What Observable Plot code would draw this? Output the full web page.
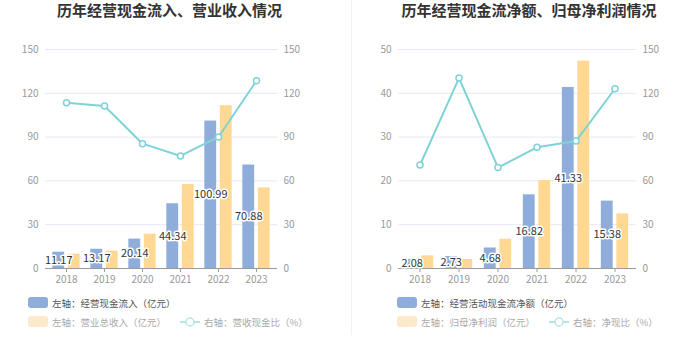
<!DOCTYPE html>
<html><head><meta charset="utf-8">
<script src="https://cdn.jsdelivr.net/npm/d3@7"></script>
<script src="https://cdn.jsdelivr.net/npm/@observablehq/plot@0.6"></script>
<style>
body{margin:0;background:#fff;font-family:"Noto Sans CJK SC","Noto Sans",sans-serif;}
#wrap{position:relative;width:699px;height:359px;overflow:hidden;background:#fff;}
.title{position:absolute;top:0;text-align:center;font-size:15px;font-weight:bold;color:#333;line-height:20px;white-space:nowrap;}
.chart{position:absolute;top:30px;}
.lg{position:absolute;font-size:9.5px;line-height:12px;white-space:nowrap;}
.sw{position:absolute;width:20px;height:11px;border-radius:3px;}
.divider{position:absolute;left:351px;top:0;width:1px;height:335px;background:#f2f2f2;}
</style>
</head><body>
<div id="wrap"></div>
<script>
const years = ["2018","2019","2020","2021","2022","2023"];
// left panel
const cashIn = [11.17,13.17,20.14,44.34,100.99,70.88];
const revenue = [9.8,11.9,23.5,57.5,111.5,55.2];
const cashRatio = [113.6,111.3,85.5,77.1,90.1,128.6];
const leftTicks1 = [0,30,60,90,120,150];
const rightTicks1 = [0,30,60,90,120,150];
// right panel
const netCash = [2.08,2.73,4.68,16.82,41.33,15.38];
const netProfit = [2.89,2.05,6.69,20.1,47.35,12.47];
const netRatio = [70.9,130.4,69.1,83.0,87.3,123.1];
const leftTicks2 = [0,10,20,30,40,50];
const rightTicks2 = [0,30,60,90,120,150];

const titles = ["历年经营现金流入、营业收入情况","历年经营现金流净额、归母净利润情况"];
const legendA = ["左轴：经营现金流入（亿元）","左轴：经营活动现金流净额（亿元）"];
const legendB = ["左轴：营业总收入（亿元）","左轴：归母净利润（亿元）"];
const legendC = ["右轴：营收现金比（%）","右轴：净现比（%）"];

const BLUE="#8eaddb", YEL="#ffd894", TEAL="#7fd3d6";
const wrap = document.getElementById("wrap");

function panel(cfg){
  const data = years.map((y,i)=>({year:y,a:cfg.a[i],b:cfg.b[i],r:cfg.r[i]}));
  const lMax = cfg.lt[cfg.lt.length-1], rMax = cfg.rt[cfg.rt.length-1];
  const k = rMax/lMax;
  const bw = (cfg.width-cfg.ml-cfg.mr)/years.length;
  const h = bw/2;
  const svg = Plot.plot({
    width: cfg.width, height: 260,
    marginTop: 19, marginBottom: 22, marginLeft: cfg.ml, marginRight: cfg.mr,
    style:{fontFamily:'"Noto Sans CJK SC","Noto Sans",sans-serif',fontSize:"10px",background:"transparent",color:"#999"},
    x:{type:"band",domain:years,padding:0,label:null},
    y:{domain:[0,lMax],label:null},
    marks:[
      Plot.gridY(cfg.lt.filter(d=>d>0),{stroke:"#e6e9f3",strokeOpacity:1}),
      Plot.axisY(cfg.lt,{anchor:"left",tickSize:0,tickPadding:7,fill:"#999",label:null}),
      Plot.axisY(cfg.lt,{anchor:"right",tickSize:0,tickPadding:6,fill:"#999",label:null,tickFormat:d=>String(Math.round(d*k))}),
      Plot.barY(data,{x:"year",y:"a",fill:BLUE,insetLeft:h-14,insetRight:h+1.5}),
      Plot.barY(data,{x:"year",y:"b",fill:YEL,insetLeft:h+1.5,insetRight:h-14}),
      Plot.ruleY([0],{stroke:"#9a9a9a"}),
      Plot.axisX({tickSize:4,tickPadding:3,stroke:"#9a9a9a",fill:"#999",label:null}),
      Plot.line(data,{x:"year",y:d=>d.r/k,stroke:TEAL,strokeWidth:2}),
      Plot.dot(data,{x:"year",y:d=>d.r/k,r:3,fill:"white",stroke:TEAL,strokeWidth:1.5}),
      Plot.text(data,{x:"year",y:d=>d.a/2,text:d=>d.a.toFixed(2),dx:-7.75,fill:"#333",stroke:"white",strokeWidth:3,fontSize:11})
    ]
  });
  const c = document.createElement("div");
  c.className="chart"; c.style.left=cfg.x+"px";
  c.appendChild(svg); wrap.appendChild(c);

  const t = document.createElement("div");
  t.className="title"; t.style.left=cfg.tx+"px"; t.style.width=cfg.tw+"px";
  t.textContent=cfg.title; wrap.appendChild(t);

  const s1=document.createElement("div"); s1.className="sw";
  s1.style.left=cfg.lgx+"px"; s1.style.top="297px"; s1.style.background=BLUE; wrap.appendChild(s1);
  const l1=document.createElement("div"); l1.className="lg";
  l1.style.left=(cfg.lgx+24)+"px"; l1.style.top="297px"; l1.style.color="#555"; l1.textContent=cfg.la; wrap.appendChild(l1);

  const s2=document.createElement("div"); s2.className="sw";
  s2.style.left=cfg.lgx+"px"; s2.style.top="316px"; s2.style.background="#fde9cb"; wrap.appendChild(s2);
  const l2=document.createElement("div"); l2.className="lg";
  l2.style.left=(cfg.lgx+24)+"px"; l2.style.top="316px"; l2.style.color="#aaa"; l2.textContent=cfg.lb; wrap.appendChild(l2);

  const ic=document.createElementNS("http://www.w3.org/2000/svg","svg");
  ic.setAttribute("width","22"); ic.setAttribute("height","12");
  ic.style.position="absolute"; ic.style.left=(cfg.lcx-1)+"px"; ic.style.top="316px";
  ic.innerHTML='<line x1="1" y1="6" x2="21" y2="6" stroke="#b4e6e8" stroke-width="2"/><circle cx="11" cy="6" r="4" fill="white" stroke="#b4e6e8" stroke-width="1.5"/>';
  wrap.appendChild(ic);
  const l3=document.createElement("div"); l3.className="lg";
  l3.style.left=(cfg.lcx+24)+"px"; l3.style.top="316px"; l3.style.color="#aaa"; l3.textContent=cfg.lc; wrap.appendChild(l3);
}

panel({x:0,width:350,ml:45,mr:73,a:cashIn,b:revenue,r:cashRatio,lt:leftTicks1,rt:rightTicks1,
  title:titles[0],tx:0,tw:339,la:legendA[0],lb:legendB[0],lc:legendC[0],lgx:28,lcx:180});
panel({x:350,width:349,ml:48,mr:63,a:netCash,b:netProfit,r:netRatio,lt:leftTicks2,rt:rightTicks2,
  title:titles[1],tx:359,tw:340,la:legendA[1],lb:legendB[1],lc:legendC[1],lgx:397,lcx:549});

const dv=document.createElement("div"); dv.className="divider"; wrap.appendChild(dv);
</script>
</body></html>
